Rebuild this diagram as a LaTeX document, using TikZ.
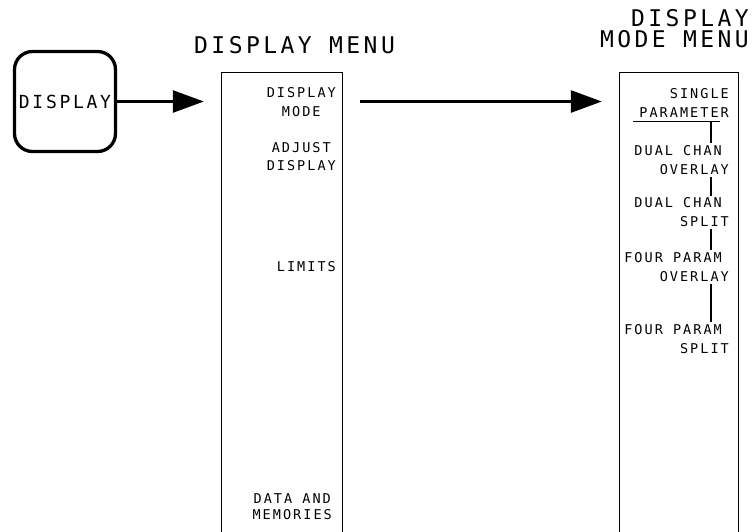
\documentclass[tikz,border=0pt]{standalone}
\usepackage{fontspec}
\usepackage{tikz}
\usetikzlibrary{arrows.meta, positioning, calc}
\newfontfamily\hpfont{DejaVu Sans Mono}[LetterSpace=15]

\begin{document}
\begin{tikzpicture}[x=1pt, y=-1pt,
    menubox/.style={minimum width=120pt, minimum height=462pt, inner sep=0pt},
    lkey/.style={font={\hpfont\fontsize{13.5}{18.5}\selectfont}, align=center, anchor=east, inner sep=2pt},
    rkey/.style={font={\hpfont\fontsize{13.5}{19}\selectfont}, align=right, anchor=east, inner sep=2pt},
    title/.style={font={\hpfont\fontsize{23}{21}\selectfont}, inner sep=0pt},
    hparrow/.style={-{Triangle[length=31pt, width=22pt]}, line width=2.7pt},
    thinline/.style={line width=1.3pt}
]
\useasboundingbox (0,0) rectangle (755,531);

\node[draw, rounded corners=18pt, line width=3.3pt, minimum width=101pt, minimum height=100pt,
      font={\hpfont\fontsize{18}{20}\selectfont}, inner sep=0pt] (key) at (65,101.5) {DISPLAY};

\node[menubox] (dmenu) at (282,304) {};
\node[menubox, minimum width=118pt] (mmenu) at (679,304) {};
\draw[thinline] (dmenu.south west) -- (dmenu.north west) -- (dmenu.north east) -- (dmenu.south east);
\draw[thinline] (mmenu.south west) -- (mmenu.north west) -- (mmenu.north east) -- (mmenu.south east);

\node[title, anchor=west] (dtitle) at (194,45.5) {DISPLAY MENU};
\node[title, align=right, anchor=east] (mtitle) at (749,28.5) {DISPLAY\\MODE MENU};

\draw[hparrow, shorten >=18pt] (key.east) -- (key.east -| dmenu.west);
\draw[hparrow, shorten <=18pt, shorten >=18pt] (key.east -| dmenu.east) -- (key.east -| mmenu.west);

\node[lkey] (dmode) at (338,102.25) {DISPLAY\\MODE};
\node[lkey] (adjust) at (338,156.75) {ADJUST\\DISPLAY};
\node[lkey] (limits) at (338,267) {LIMITS};
\node[lkey] (datamem) at (334,506.5) {DATA AND\\[-2.5pt]MEMORIES};

\node[rkey] (single) at (731,103) {SINGLE\\PARAMETER};
\node[rkey] (dco) at (731,160) {DUAL CHAN\kern7pt\\OVERLAY};
\node[rkey] (dcs) at (731,212.5) {DUAL CHAN\kern7pt\\SPLIT};
\node[rkey] (fpo) at (731,267.25) {FOUR PARAM\kern7pt\\OVERLAY};
\node[rkey] (fps) at (731,338.75) {FOUR PARAM\kern7pt\\SPLIT};

\coordinate (ulw) at ($(single.south west)+(-4,2)$);
\coordinate (ule) at ($(single.south east)+(-11,2)$);
\coordinate (spine) at (711,0);
\draw[thinline] (ulw) -- (ule);
\draw[thinline] (spine |- ule) -- (spine |- dco.north);
\draw[thinline] (spine |- dco.south) -- (spine |- dcs.north);
\draw[thinline] (spine |- dcs.south) -- (spine |- fpo.north);
\draw[thinline] (spine |- fpo.south) -- (spine |- fps.north);
\end{tikzpicture}
\end{document}
